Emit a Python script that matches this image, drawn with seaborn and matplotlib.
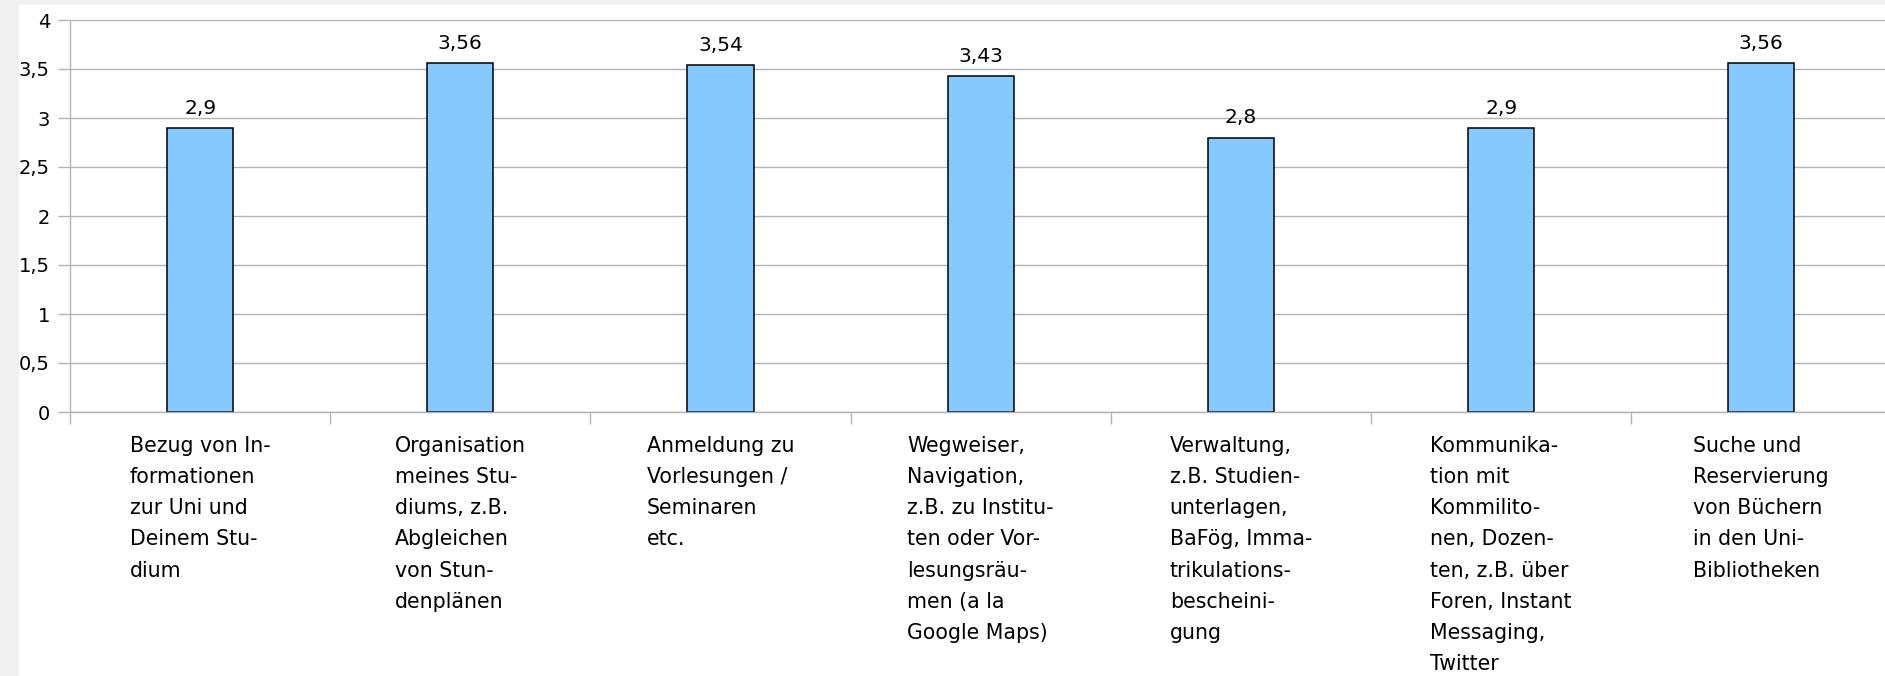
import matplotlib
matplotlib.use('Agg')
import matplotlib.pyplot as plt
import seaborn as sns
import pandas as pd
from matplotlib.patches import Rectangle
from matplotlib.ticker import FuncFormatter

# ---- data ----
categories = [
    "Bezug von In-\nformationen\nzur Uni und\nDeinem Stu-\ndium",
    "Organisation\nmeines Stu-\ndiums, z.B.\nAbgleichen\nvon Stun-\ndenplänen",
    "Anmeldung zu\nVorlesungen /\nSeminaren\netc.",
    "Wegweiser,\nNavigation,\nz.B. zu Institu-\nten oder Vor-\nlesungsräu-\nmen (a la\nGoogle Maps)",
    "Verwaltung,\nz.B. Studien-\nunterlagen,\nBaFög, Imma-\ntrikulations-\nbescheini-\ngung",
    "Kommunika-\ntion mit\nKommilito-\nnen, Dozen-\nten, z.B. über\nForen, Instant\nMessaging,\nTwitter",
    "Suche und\nReservierung\nvon Büchern\nin den Uni-\nBibliotheken",
]
values = [2.9, 3.56, 3.54, 3.43, 2.8, 2.9, 3.56]
y_ticks = [0, 0.5, 1, 1.5, 2, 2.5, 3, 3.5, 4]

df = pd.DataFrame({"Kategorie": categories, "Wert": values})

W, H = 1885, 676
GRID = "#b3b3b3"
fig = plt.figure(figsize=(W / 100, H / 100), dpi=100, facecolor="#f0f0f0")
fig.patches.append(Rectangle((19 / W, 0), 1 - 19 / W, 1 - 5 / H,
                             transform=fig.transFigure, facecolor="white",
                             edgecolor="none", zorder=-10))

ax = fig.add_axes([70 / W, (H - 412) / H, 1821.4 / W, 392 / H])
ax.set_facecolor("white")

sns.barplot(data=df, x="Kategorie", y="Wert", color="#85c9ff", saturation=1,
            width=0.254, edgecolor="black", linewidth=1.1, errorbar=None, ax=ax)

ax.set_xlim(-0.5, len(categories) - 0.5)
ax.set_ylim(0, 4)
ax.set_yticks(y_ticks)
ax.yaxis.set_major_formatter(FuncFormatter(lambda v, p: f"{v:g}".replace(".", ",")))

ax.set_xticks(range(len(categories)))
ax.set_xticklabels(categories, ha="center", multialignment="left",
                   linespacing=1.70, fontsize=14.8)
ax.set_xticks([i - 0.5 for i in range(len(categories))], minor=True)
ax.tick_params(axis="x", which="minor", length=8.64, width=1, color=GRID)
ax.tick_params(axis="x", which="major", length=0, pad=17.2)
ax.tick_params(axis="y", length=8.64, width=1, color=GRID, pad=5.8, labelsize=14)

ax.grid(axis="y", color=GRID, lw=1)
ax.set_axisbelow(True)
for s in ("top", "right"):
    ax.spines[s].set_visible(False)
for s in ("left", "bottom"):
    ax.spines[s].set_color(GRID)
    ax.spines[s].set_linewidth(1)
ax.set_xlabel("")
ax.set_ylabel("")

ax.bar_label(ax.containers[0],
             labels=[f"{v:g}".replace(".", ",") for v in values],
             padding=7.3, fontsize=14.5)

fig.savefig("out.png", dpi=100, facecolor=fig.get_facecolor())
